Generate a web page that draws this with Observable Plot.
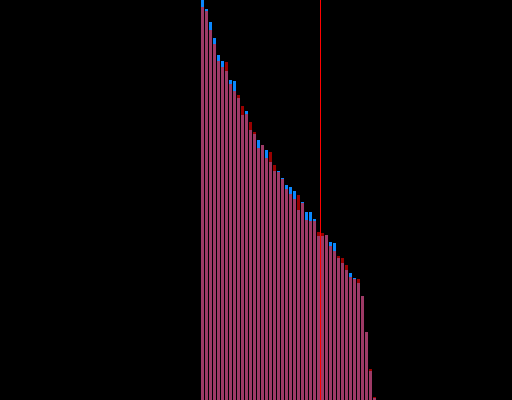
<!DOCTYPE html>
<html>
<head>
<meta charset="utf-8">
<script src="https://cdn.jsdelivr.net/npm/d3@7"></script>
<script src="https://cdn.jsdelivr.net/npm/@observablehq/plot@0.6"></script>
<style>
  html, body { margin: 0; padding: 0; background: #000; }
  svg { display: block; }
</style>
</head>
<body>
<div id="chart"></div>
<script>
// Series A (blue when higher) and series B (red when higher), per ranked item
const seriesA = [400, 391, 378, 362, 345, 339, 329, 320, 319, 302, 285, 289, 270, 266, 260, 255, 250, 238, 229, 229, 222, 215, 213, 209, 190, 198, 188, 188, 181, 164, 164, 165, 158, 157, 142, 137, 130, 127, 122, 117, 104, 68, 29, 2];
const seriesB = [393, 389, 370, 356, 339, 333, 338, 316, 309, 305, 294, 286, 278, 268, 252, 255, 242, 248, 235, 228, 221, 211, 206, 201, 205, 197, 180, 179, 179, 168, 167, 165, 154, 149, 144, 142, 135, 123, 121, 121, 104, 68, 31, 3];
const cutoff = [30];

const data = seriesA.map((a, i) => ({i, a, b: seriesB[i], lo: Math.min(a, seriesB[i]), hi: Math.max(a, seriesB[i]), up: a >= seriesB[i]}));

const chart = Plot.plot({
  width: 512,
  height: 400,
  marginLeft: 200,
  marginRight: 136,
  marginTop: 0,
  marginBottom: 0,
  style: {background: "#000"},
  x: {type: "linear", domain: [0, seriesA.length], axis: null},
  y: {domain: [0, 400], axis: null},
  marks: [
    Plot.rect(data, {x1: "i", x2: d => d.i + 1, y1: 0, y2: "lo", fill: "#9e3a66", insetLeft: 1}),
    Plot.rect(data.filter(d => d.hi > d.lo), {x1: "i", x2: d => d.i + 1, y1: "lo", y2: "hi", fill: d => d.up ? "#0a88ff" : "#990000", insetLeft: 1}),
    Plot.ruleX(cutoff, {stroke: "#ff0000", strokeWidth: 1})
  ]
});
document.getElementById("chart").appendChild(chart);
</script>
</body>
</html>
